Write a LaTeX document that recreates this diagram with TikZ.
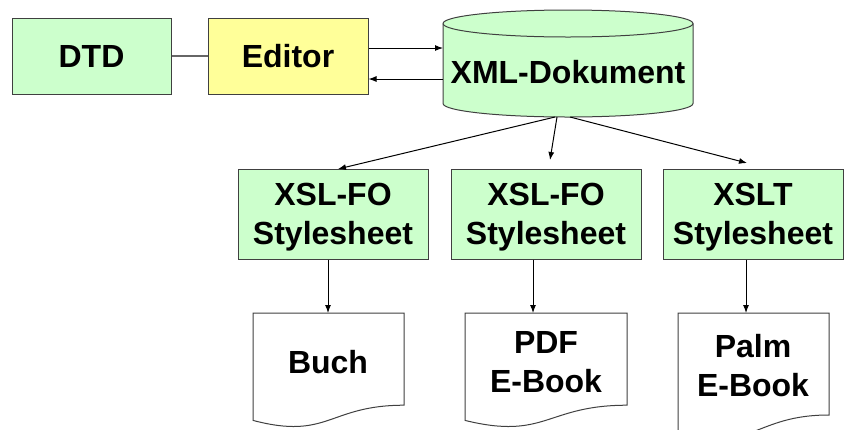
\documentclass[tikz,border=0pt]{standalone}
\usepackage{fontspec}
\setmainfont{Liberation Sans}
\usetikzlibrary{arrows.meta}
\definecolor{lgreen}{HTML}{CCFFCC}
\definecolor{lyellow}{HTML}{FFFF99}
\definecolor{edge}{HTML}{404040}
\begin{document}
\begin{tikzpicture}[x=1pt,y=-1pt,
  txt/.style={font=\bfseries\fontsize{32}{39}\selectfont, align=center, inner sep=0pt},
  boxnode/.style={draw=edge, line width=1pt, minimum height=90pt, minimum width=190pt},
  arr/.style={draw=black, line width=1pt, -{Latex[length=8pt,width=6pt]}},
  plain/.style={draw=black!60, line width=1.2pt},
  shapeline/.style={draw=edge, line width=1pt}]
\useasboundingbox (0,0) rectangle (845,429);
% top row
\node[txt, draw=edge, line width=1pt, fill=lgreen, minimum width=159pt, minimum height=76pt] (dtd) at (91.5,56) {DTD};
\node[txt, draw=edge, line width=1pt, fill=lyellow, minimum width=160pt, minimum height=76pt] (ed) at (288,56) {Editor};
\draw[plain] (dtd) -- (ed);
% cylinder
\path[shapeline, fill=lgreen] (443,23.5) -- (443,103.5) arc[start angle=180, end angle=0, x radius=125, y radius=13.5]
  -- (693,23.5) arc[start angle=360, end angle=180, x radius=125, y radius=13.5] -- cycle;
\draw[shapeline] (443,23.5) arc[start angle=180, end angle=0, x radius=125, y radius=13.5];
\node[txt] (xml) at (568,72) {XML-Dokument};
\coordinate (cA) at (443,48);
\coordinate (cB) at (443,79);
\draw[arr] (ed.east |- cA) -- (cA);
\draw[arr] (cB) -- (ed.east |- cB);
% stylesheets
\node[boxnode, fill=lgreen] (s1) at (333,214) {};
\node[boxnode, fill=lgreen] (s2) at (546,214) {};
\node[boxnode, fill=lgreen, minimum width=180pt] (s3) at (753,214) {};
\node[txt] (s1t) at (333,217) {XSL-FO\\Stylesheet};
\node[txt] (s2t) at (546,217) {XSL-FO\\Stylesheet};
\node[txt] (s3t) at (753,217) {XSLT\\Stylesheet};
\coordinate (b1) at (555,117);
\coordinate (b2) at (557,117);
\coordinate (b3) at (570,117);
\coordinate (t1) at (338,169);
\coordinate (t2) at (550,160);
\coordinate (t3) at (747,163);
\draw[arr] (b1) -- (t1);
\draw[arr] (b2) -- (t2);
\draw[arr] (b3) -- (t3);
% documents
\path[shapeline, fill=white] (253,313) -- (404,313) -- (404,405.2) .. controls (328.5,405.2) and (328.5,440.3) .. (253,420.4) -- cycle;
\path[shapeline, fill=white] (465,313) -- (627,313) -- (627,405.2) .. controls (546,405.2) and (546,440.3) .. (465,420.4) -- cycle;
\path[shapeline, fill=white] (678,313) -- (829,313) -- (829,415) .. controls (753.5,415) and (753.5,453.6) .. (678,431.6) -- cycle;
\node[txt] (buch) at (328,362) {Buch};
\node[txt] (pdf) at (546,362) {PDF\\E-Book};
\node[txt] (palm) at (753,366) {Palm\\E-Book};
\coordinate (d1) at (328,313);
\coordinate (d2) at (533,313);
\coordinate (d3) at (746,313);
\draw[arr] (s1.south -| d1) -- (d1);
\draw[arr] (s2.south -| d2) -- (d2);
\draw[arr] (s3.south -| d3) -- (d3);
\end{tikzpicture}
\end{document}
